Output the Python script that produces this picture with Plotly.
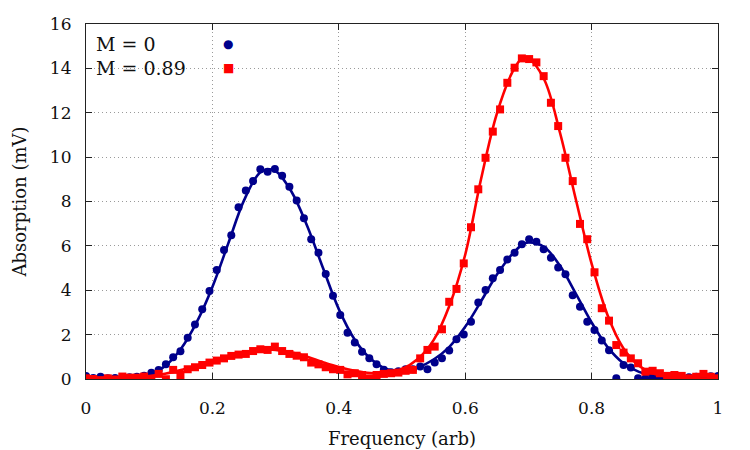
import numpy as np
import plotly.graph_objects as go

# Measured points (88 equally spaced frequencies from 0 to 1)
freq = np.linspace(0, 1, 88)

m0_points = [0.14, 0.05, 0.10, 0.03, 0.05, 0.06, 0.08, 0.10, 0.15, 0.28,
             0.41, 0.66, 0.98, 1.25, 1.86, 2.46, 3.14, 3.97, 4.91, 5.81,
             6.48, 7.74, 8.50, 8.92, 9.45, 9.34, 9.46, 9.16, 8.67, 8.04,
             7.24, 6.30, 5.69, 4.73, 3.75, 2.88, 2.09, 1.65, 1.23, 0.93,
             0.66, 0.42, 0.30, 0.35, 0.44, 0.44, 0.56, 0.44, 0.74, 0.93,
             1.28, 1.79, 2.01, 2.58, 3.45, 4.01, 4.54, 4.91, 5.39, 5.69,
             6.07, 6.30, 6.19, 5.85, 5.46, 5.02, 4.72, 3.77, 3.26, 2.58,
             2.21, 1.73, 1.30, 0.03, 0.63, 0.52, 0.03, 0.02, 0.05, 0.02,
             0.04, 0.06, 0.05, 0.08, 0.10, 0.08, 0.12, 0.13]

m089_points = [0.03, 0.00, -0.05, 0.03, -0.02, 0.11, 0.06, 0.06, 0.11, -0.03,
               0.23, -0.01, 0.41, 0.18, 0.44, 0.53, 0.63, 0.74, 0.83, 0.93,
               1.04, 1.10, 1.13, 1.26, 1.34, 1.31, 1.46, 1.26, 1.13, 1.05,
               0.98, 0.74, 0.66, 0.53, 0.44, 0.41, 0.21, 0.26, 0.18, 0.03,
               0.18, 0.23, 0.26, 0.29, 0.37, 0.41, 0.93, 1.31, 1.46, 2.24,
               3.48, 4.06, 5.21, 6.84, 8.55, 9.97, 11.15, 12.15, 13.35, 14.03,
               14.45, 14.42, 14.27, 13.65, 12.45, 11.40, 9.97, 8.92, 6.99, 6.30,
               4.81, 3.19, 2.63, 1.53, 1.19, 0.93, 0.71, 0.33, 0.37, 0.26,
               0.14, 0.18, 0.14, 0.03, 0.10, 0.23, 0.10, 0.03]

# Fitted curves
fit_x = [0.0, 0.025, 0.05, 0.075, 0.1, 0.125, 0.15, 0.175, 0.2, 0.225,
         0.25, 0.275, 0.29, 0.3, 0.325, 0.35, 0.375, 0.4, 0.425, 0.45,
         0.475, 0.5, 0.525, 0.55, 0.575, 0.6, 0.625, 0.65, 0.675, 0.69,
         0.7, 0.725, 0.75, 0.775, 0.8, 0.825, 0.85, 0.875, 0.9, 0.925,
         0.95, 0.975, 1.0]
m0_fit = [0.01, 0.02, 0.04, 0.09, 0.22, 0.58, 1.35, 2.55, 4.15, 6.10,
          8.05, 9.30, 9.45, 9.38, 8.45, 6.90, 5.00, 3.15, 1.78, 0.92,
          0.45, 0.36, 0.52, 0.88, 1.45, 2.35, 3.50, 4.70, 5.65, 6.05,
          6.15, 5.95, 5.10, 3.85, 2.55, 1.45, 0.72, 0.32, 0.12, 0.05,
          0.02, 0.01, 0.00]
m089_fit = [0.00, 0.01, 0.03, 0.07, 0.13, 0.24, 0.40, 0.60, 0.81, 1.02,
            1.20, 1.31, 1.33, 1.31, 1.20, 1.00, 0.76, 0.54, 0.37, 0.27,
            0.28, 0.45, 0.90, 1.75, 3.30, 5.60, 9.00, 11.95, 13.85, 14.45,
            14.45, 13.50, 11.10, 8.10, 5.20, 2.90, 1.40, 0.60, 0.22, 0.08,
            0.03, 0.01, 0.00]

x_ticks = [0, 0.2, 0.4, 0.6, 0.8, 1]
x_tick_text = ["0", "0.2", "0.4", "0.6", "0.8", "1"]
y_ticks = [0, 2, 4, 6, 8, 10, 12, 14, 16]

BLUE = "#00008b"
RED = "#ff0000"
FONT = "DejaVu Serif"

fig = go.Figure()
fig.add_trace(go.Scatter(x=fit_x, y=m0_fit, mode="lines", line=dict(color=BLUE, width=2.6, shape="spline"),
                         showlegend=False, hoverinfo="skip"))
fig.add_trace(go.Scatter(x=freq, y=m0_points, mode="markers", marker=dict(color=BLUE, size=8, symbol="circle"),
                         showlegend=False, name="M = 0"))
fig.add_trace(go.Scatter(x=fit_x, y=m089_fit, mode="lines", line=dict(color=RED, width=2.6, shape="spline"),
                         showlegend=False, hoverinfo="skip"))
fig.add_trace(go.Scatter(x=freq, y=m089_points, mode="markers", marker=dict(color=RED, size=8, symbol="square"),
                         showlegend=False, name="M = 0.89"))

axis_common = dict(showline=True, linecolor="#222", linewidth=1.2, mirror="ticks", ticks="inside",
                   ticklen=6, tickcolor="#222", showgrid=True, gridcolor="#9a9a9a", griddash="1px,3px",
                   gridwidth=1, zeroline=False, tickfont=dict(family=FONT, size=17, color="#111"))

fig.update_xaxes(range=[0, 1], tickvals=x_ticks, ticktext=x_tick_text, ticklabelstandoff=13,
                 automargin=False,
                 title=dict(text="Frequency (arb)", font=dict(family=FONT, size=18, color="#111")),
                 **axis_common)
fig.update_yaxes(range=[0, 16], tickvals=y_ticks, ticklabelstandoff=10,
                 title=dict(text="Absorption (mV)", font=dict(family=FONT, size=18, color="#111"), standoff=18),
                 **axis_common)

# legend (text left, symbol right)
legend_rows = [("M = 0", "●", BLUE, 0.944), ("M = 0.89", "■", RED, 0.876)]
for label, sym, col, yy in legend_rows:
    fig.add_annotation(x=0.012, y=yy, xref="paper", yref="paper", text=label, showarrow=False,
                       xanchor="left", yanchor="middle", font=dict(family=FONT, size=19, color="#111"))
    fig.add_annotation(x=0.225, y=yy, xref="paper", yref="paper", text=sym, showarrow=False,
                       xanchor="center", yanchor="middle", font=dict(family="DejaVu Sans", size=12, color=col))

fig.update_layout(width=750, height=450, margin=dict(l=86, r=32, t=24, b=71),
                  plot_bgcolor="white", paper_bgcolor="white", font=dict(family=FONT))

fig.write_html("out.html")
